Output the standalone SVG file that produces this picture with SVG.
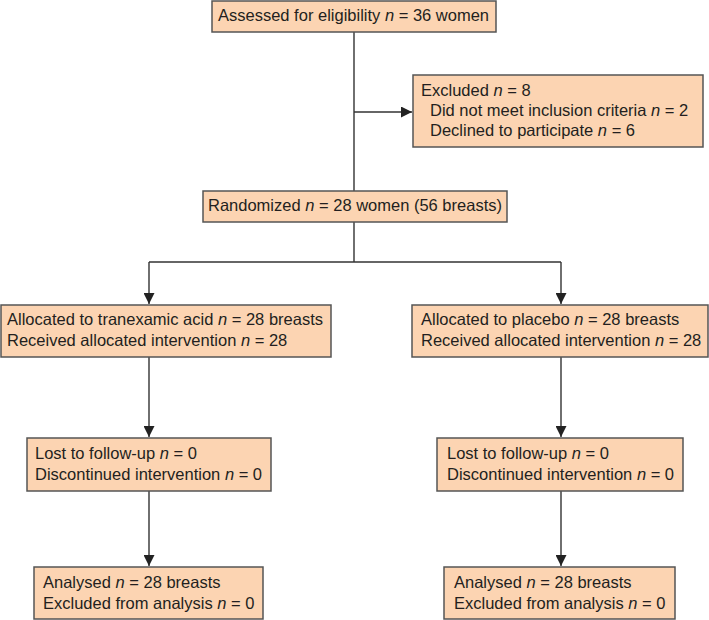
<svg xmlns="http://www.w3.org/2000/svg" width="709" height="620" viewBox="0 0 709 620">
<style>
.box{fill:#fcd4b2;stroke:#555;stroke-width:1.5}
.t{font-family:"Liberation Sans",Arial,sans-serif;font-size:16.5px;fill:#231f20}
.i{font-style:italic}
.c{stroke:#333;stroke-width:1.4;fill:none}
</style>
<defs>
<marker id="ah" markerUnits="userSpaceOnUse" markerWidth="11" markerHeight="11" viewBox="0 0 10 10" refX="10" refY="5" orient="auto">
<path d="M0,0 L10,5 L0,10 Z" fill="#222"/>
</marker>
</defs>
<g id="connectors">
<path class="c" d="M354,32 V191"/>
<path class="c" d="M354,112 H412" marker-end="url(#ah)"/>
<path class="c" d="M354,222 V262"/>
<path class="c" d="M149,262 H561"/>
<path class="c" d="M149,262 V304" marker-end="url(#ah)"/>
<path class="c" d="M561,262 V304" marker-end="url(#ah)"/>
<path class="c" d="M149,357 V437" marker-end="url(#ah)"/>
<path class="c" d="M561,357 V437" marker-end="url(#ah)"/>
<path class="c" d="M149,491 V566" marker-end="url(#ah)"/>
<path class="c" d="M561,491 V566" marker-end="url(#ah)"/>
</g>
<g id="assessed">
<rect class="box" x="212" y="1" width="284" height="31"/>
<text class="t" x="218" y="21">Assessed for eligibility <tspan class="i">n</tspan> = 36 women</text>
</g>
<g id="excluded">
<rect class="box" x="413" y="75" width="290" height="72"/>
<text class="t" x="421" y="96">Excluded <tspan class="i">n</tspan> = 8</text>
<text class="t" x="430" y="116">Did not meet inclusion criteria <tspan class="i">n</tspan> = 2</text>
<text class="t" x="430" y="136">Declined to participate <tspan class="i">n</tspan> = 6</text>
</g>
<g id="randomized">
<rect class="box" x="203" y="191" width="304" height="31"/>
<text class="t" x="208" y="211">Randomized <tspan class="i">n</tspan> = 28 women (56 breasts)</text>
</g>
<g id="alloc-txa">
<rect class="box" x="1" y="305" width="330" height="52"/>
<text class="t" x="7" y="325">Allocated to tranexamic acid <tspan class="i">n</tspan> = 28 breasts</text>
<text class="t" x="7" y="346">Received allocated intervention <tspan class="i">n</tspan> = 28</text>
</g>
<g id="alloc-placebo">
<rect class="box" x="412" y="305" width="296" height="52"/>
<text class="t" x="421" y="325">Allocated to placebo <tspan class="i">n</tspan> = 28 breasts</text>
<text class="t" x="421" y="346">Received allocated intervention <tspan class="i">n</tspan> = 28</text>
</g>
<g id="lost-txa">
<rect class="box" x="27" y="438" width="244" height="53"/>
<text class="t" x="35" y="459">Lost to follow-up <tspan class="i">n</tspan> = 0</text>
<text class="t" x="35" y="480">Discontinued intervention <tspan class="i">n</tspan> = 0</text>
</g>
<g id="lost-placebo">
<rect class="box" x="437" y="438" width="246" height="53"/>
<text class="t" x="447" y="459">Lost to follow-up <tspan class="i">n</tspan> = 0</text>
<text class="t" x="447" y="480">Discontinued intervention <tspan class="i">n</tspan> = 0</text>
</g>
<g id="analysed-txa">
<rect class="box" x="34" y="567" width="229" height="52"/>
<text class="t" x="43" y="588">Analysed <tspan class="i">n</tspan> = 28 breasts</text>
<text class="t" x="43" y="609">Excluded from analysis <tspan class="i">n</tspan> = 0</text>
</g>
<g id="analysed-placebo">
<rect class="box" x="444" y="567" width="231" height="52"/>
<text class="t" x="454" y="588">Analysed <tspan class="i">n</tspan> = 28 breasts</text>
<text class="t" x="454" y="609">Excluded from analysis <tspan class="i">n</tspan> = 0</text>
</g>
</svg>
